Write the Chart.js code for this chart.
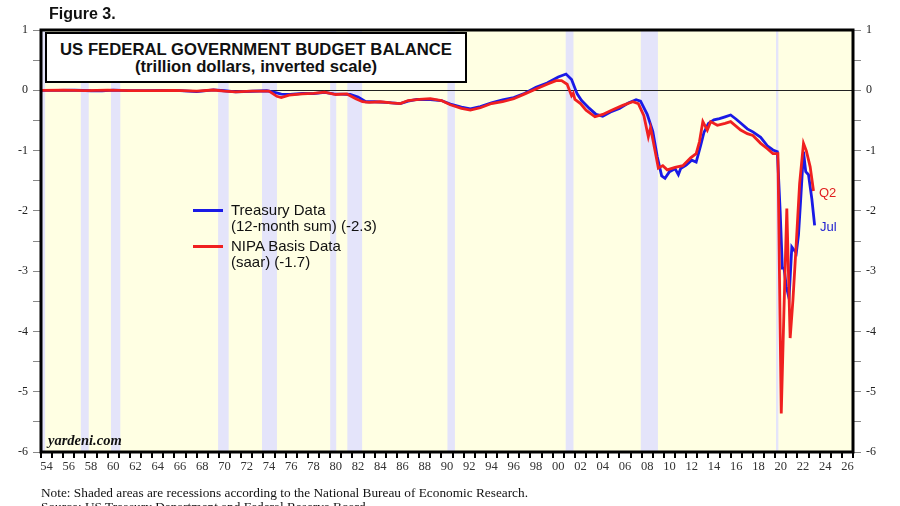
<!DOCTYPE html>
<html>
<head>
<meta charset="utf-8">
<script src="https://cdn.jsdelivr.net/npm/chart.js@4.4.0/dist/chart.umd.min.js"></script>
<style>
  body { margin: 0; background: #fff; }
  #wrap { position: relative; width: 900px; height: 506px; overflow: hidden; }
  #budgetChart { position: absolute; left: 0; top: 0; }
  .txt { position: absolute; white-space: nowrap; line-height: 1; }
  .sans { font-family: Arial, "Liberation Sans", sans-serif; }
  .serif { font-family: "Times New Roman", "Liberation Serif", serif; }
  #fig { left: 49px; top: 6px; font-size: 16px; font-weight: bold; color: #111; }
  #titleBox {
    position: absolute; left: 45px; top: 32px; width: 422px; height: 51px;
    box-sizing: border-box; border: 2px solid #000; background: #fff;
    padding-top: 8px; text-align: center;
    font-family: Arial, "Liberation Sans", sans-serif; font-weight: bold;
    font-size: 16.7px; line-height: 16.7px; color: #111;
  }
  .legLine { position: absolute; width: 30px; height: 3px; left: 193px; }
  .legTxt { position: absolute; left: 231px; font-size: 15px; line-height: 16px; color: #111; white-space: nowrap; }
  #yard { left: 48px; top: 433px; font-size: 14.5px; font-weight: bold; font-style: italic; color: #111; }
  #q2 { left: 819px; top: 186px; font-size: 13px; color: #e02020; }
  #jul { left: 820px; top: 220px; font-size: 13px; color: #2020d0; }
  #note { left: 41px; top: 486px; font-size: 13.3px; color: #111; }
  #source { left: 41px; top: 500px; font-size: 13.3px; color: #111; }
</style>
</head>
<body>
<div id="wrap">
  <canvas id="budgetChart" width="900" height="506"></canvas>
  <div class="txt sans" id="fig">Figure 3.</div>
  <div id="titleBox">
    <div>US FEDERAL GOVERNMENT BUDGET BALANCE</div>
    <div>(trillion dollars, inverted scale)</div>
  </div>
  <div class="legLine" style="top:209px; background:#1a1ae6;"></div>
  <div class="legTxt sans" style="top:202px;">Treasury Data<br>(12-month sum) (-2.3)</div>
  <div class="legLine" style="top:245px; background:#f02020;"></div>
  <div class="legTxt sans" style="top:238px;">NIPA Basis Data<br>(saar) (-1.7)</div>
  <div class="txt serif" id="yard">yardeni.com</div>
  <div class="txt sans" id="q2">Q2</div>
  <div class="txt sans" id="jul">Jul</div>
  <div class="txt serif" id="note">Note: Shaded areas are recessions according to the National Bureau of Economic Research.</div>
  <div class="txt serif" id="source">Source: US Treasury Department and Federal Reserve Board.</div>
</div>
<script>
// Treasury data, 12-month sum (trillion dollars)
const treasuryYears = [1954.0, 1955.5, 1957.0, 1958.5, 1959.5, 1960.5, 1962.0, 1963.5, 1965.0, 1966.5,
  1968.0, 1969.5, 1970.5, 1971.5, 1973.0, 1974.3, 1975.0, 1975.6, 1976.4, 1977.5,
  1978.5, 1979.5, 1980.3, 1981.0, 1981.8, 1982.5, 1983.2, 1984.0, 1985.0, 1986.3,
  1987.0, 1987.8, 1989.0, 1990.0, 1990.8, 1991.8, 1992.6, 1993.5, 1994.5, 1995.5,
  1996.5, 1997.5, 1998.5, 1999.5, 2000.5, 2001.2, 2001.7, 2002.2, 2002.6, 2003.3,
  2003.9, 2004.5, 2005.2, 2006.0, 2006.8, 2007.5, 2007.9, 2008.5, 2009.0, 2009.4,
  2009.8, 2010.1, 2010.5, 2011.0, 2011.3, 2011.5, 2012.0, 2012.5, 2012.9, 2013.3,
  2013.6, 2014.0, 2014.5, 2015.0, 2015.5, 2016.0, 2016.5, 2017.0, 2017.5, 2018.0,
  2018.7, 2019.3, 2019.8, 2020.2, 2020.45, 2020.65, 2020.8, 2021.0, 2021.25, 2021.5,
  2021.7, 2021.9, 2022.1, 2022.3, 2022.55, 2022.75, 2023.0, 2023.3, 2023.55]
const treasuryValues = [-0.003, 0.0, 0.003, -0.008, -0.01, 0.002, -0.006, -0.005, -0.003, -0.005,
  -0.022, 0.008, -0.008, -0.027, -0.016, -0.008, -0.035, -0.065, -0.07, -0.05,
  -0.055, -0.035, -0.06, -0.065, -0.07, -0.11, -0.19, -0.19, -0.2, -0.22,
  -0.18, -0.15, -0.155, -0.17, -0.23, -0.28, -0.31, -0.27, -0.21, -0.16,
  -0.12, -0.05, 0.05, 0.12, 0.22, 0.27, 0.18, -0.06, -0.17, -0.3,
  -0.4, -0.43, -0.36, -0.3, -0.21, -0.155, -0.18, -0.4, -0.68, -1.1,
  -1.42, -1.46, -1.35, -1.30, -1.40, -1.30, -1.24, -1.16, -1.19, -0.92,
  -0.70, -0.55, -0.49, -0.47, -0.44, -0.41, -0.48, -0.56, -0.64, -0.69,
  -0.78, -0.92, -0.99, -1.02, -2.0, -2.95, -2.95, -3.25, -3.45, -2.6,
  -2.65, -2.7, -2.4, -1.8, -1.02, -1.35, -1.40, -1.8, -2.24]

// NIPA basis data, saar (trillion dollars)
const nipaYears = [1954.0, 1956.0, 1958.0, 1960.0, 1962.0, 1964.0, 1966.0, 1968.0, 1969.5, 1970.5,
  1971.5, 1973.0, 1974.5, 1975.2, 1975.6, 1976.3, 1977.5, 1978.5, 1979.5, 1980.5,
  1981.5, 1982.3, 1982.9, 1983.5, 1984.5, 1985.5, 1986.3, 1987.0, 1988.0, 1989.0,
  1990.0, 1990.8, 1991.8, 1992.6, 1993.5, 1994.5, 1995.5, 1996.5, 1997.5, 1998.5,
  1999.5, 2000.3, 2000.8, 2001.3, 2001.7, 2001.85, 2002.0, 2002.5, 2003.0, 2003.8,
  2004.5, 2005.3, 2006.3, 2007.2, 2007.7, 2008.2, 2008.6, 2008.8, 2009.2, 2009.5,
  2009.9, 2010.3, 2011.0, 2011.7, 2012.4, 2012.9, 2013.2, 2013.5, 2013.9, 2014.2,
  2014.8, 2015.5, 2016.0, 2016.9, 2017.5, 2018.0, 2018.7, 2019.3, 2019.8, 2020.25,
  2020.55, 2020.8, 2021.05, 2021.35, 2021.6, 2021.9, 2022.2, 2022.55, 2022.8, 2023.15,
  2023.45]
const nipaValues = [0.0, 0.003, -0.004, 0.002, -0.005, -0.004, -0.003, -0.015, 0.005, -0.015,
  -0.025, -0.015, -0.015, -0.10, -0.12, -0.08, -0.06, -0.05, -0.03, -0.07,
  -0.06, -0.14, -0.19, -0.2, -0.19, -0.21, -0.22, -0.17, -0.15, -0.14,
  -0.17, -0.24, -0.30, -0.33, -0.29, -0.22, -0.19, -0.14, -0.06, 0.02,
  0.1, 0.16, 0.16, 0.1, -0.09, -0.05, -0.15, -0.22, -0.33, -0.44,
  -0.4, -0.33, -0.25, -0.19, -0.22, -0.42, -0.77, -0.62, -1.0, -1.29,
  -1.25, -1.32, -1.28, -1.25, -1.12, -1.05, -0.85, -0.52, -0.66, -0.52,
  -0.58, -0.55, -0.52, -0.66, -0.72, -0.75, -0.88, -0.97, -1.05, -1.05,
  -5.36, -3.6, -1.96, -4.11, -3.48, -2.54, -1.55, -0.88, -1.0, -1.27,
  -1.67]

// NBER recessions
const recessionStarts = [1953.5, 1957.58, 1960.29, 1969.92, 1973.87, 1980.0, 1981.54, 1990.54, 2001.17, 2007.92, 2020.08]
const recessionEnds = [1954.37, 1958.29, 1961.13, 1970.87, 1975.21, 1980.54, 1982.87, 1991.21, 2001.87, 2009.46, 2020.29]

const yearLabels = ['54', '56', '58', '60', '62', '64', '66', '68', '70', '72', '74', '76', '78',
  '80', '82', '84', '86', '88', '90', '92', '94', '96', '98', '00', '02', '04', '06', '08',
  '10', '12', '14', '16', '18', '20', '22', '24', '26']

const firstYear = 1954
const lastYear = 2027

function toPoints(xs, ys) {
  return xs.map((x, i) => ({ x: x, y: ys[i] }))
}

const tickFont = { family: "'Times New Roman', 'Liberation Serif', serif", size: 12 }

// plot background, recession shading and frame
const backdrop = {
  id: 'backdrop',
  beforeDraw(chart) {
    const { ctx, chartArea: a, scales } = chart
    ctx.save()
    ctx.fillStyle = '#ffffe3'
    ctx.fillRect(a.left, a.top, a.right - a.left, a.bottom - a.top)
    ctx.fillStyle = '#e4e4fa'
    for (let i = 0; i < recessionStarts.length; i++) {
      const x0 = Math.max(scales.x.getPixelForValue(recessionStarts[i]), a.left)
      const x1 = scales.x.getPixelForValue(recessionEnds[i])
      ctx.fillRect(x0, a.top, x1 - x0, a.bottom - a.top)
    }
    ctx.restore()
  },
  afterDraw(chart) {
    const { ctx, chartArea: a } = chart
    ctx.save()
    ctx.strokeStyle = '#000'
    ctx.lineWidth = 3
    ctx.strokeRect(a.left, a.top, a.right - a.left, a.bottom - a.top)
    ctx.restore()
  }
}

const ctx = document.getElementById('budgetChart').getContext('2d')
new Chart(ctx, {
  type: 'line',
  data: {
    datasets: [{
      label: 'Treasury Data (12-month sum)',
      data: toPoints(treasuryYears, treasuryValues),
      borderColor: '#1a1ae6',
      borderWidth: 2.8,
      pointRadius: 0,
      tension: 0,
      order: 2
    }, {
      label: 'NIPA Basis Data (saar)',
      data: toPoints(nipaYears, nipaValues),
      borderColor: '#f02020',
      borderWidth: 2.8,
      pointRadius: 0,
      tension: 0,
      order: 1
    }]
  },
  options: {
    responsive: false,
    animation: false,
    layout: { padding: { top: 30, left: 0, right: 0, bottom: 0 } },
    plugins: {
      legend: { display: false },
      tooltip: { enabled: false }
    },
    scales: {
      x: {
        type: 'linear',
        min: firstYear,
        max: lastYear,
        afterBuildTicks(scale) {
          scale.ticks = []
          for (let y = firstYear; y < lastYear; y++) scale.ticks.push({ value: y + 0.5 })
        },
        afterFit(scale) { scale.height = 54 },
        border: { display: false },
        grid: { display: true, drawOnChartArea: false, offset: true, tickLength: 6, lineWidth: 2, color: '#000' },
        ticks: {
          autoSkip: false, maxRotation: 0, padding: 1,
          font: { family: tickFont.family, size: 12.5 }, color: '#333',
          callback: (v, i) => (i % 2 === 0 ? yearLabels[i / 2] : '')
        }
      },
      y: {
        position: 'left',
        min: -6,
        max: 1,
        afterFit(scale) { scale.width = 41 },
        border: { display: false },
        grid: {
          drawTicks: true, tickLength: 8, tickColor: '#888', lineWidth: 1,
          color: (c) => (c.tick && c.tick.value === 0 ? '#222' : 'rgba(0,0,0,0)')
        },
        ticks: {
          stepSize: 0.5, autoSkip: false, padding: 5, font: tickFont, color: '#222',
          callback: (v) => (Number.isInteger(v) ? String(v) : '')
        }
      },
      y2: {
        position: 'right',
        min: -6,
        max: 1,
        afterFit(scale) { scale.width = 47 },
        border: { display: false },
        grid: { drawOnChartArea: false, tickLength: 8, tickColor: '#888' },
        ticks: {
          stepSize: 0.5, autoSkip: false, padding: 5, font: tickFont, color: '#222',
          callback: (v) => (Number.isInteger(v) ? String(v) : '')
        }
      }
    }
  },
  plugins: [backdrop]
})
</script>
</body>
</html>
